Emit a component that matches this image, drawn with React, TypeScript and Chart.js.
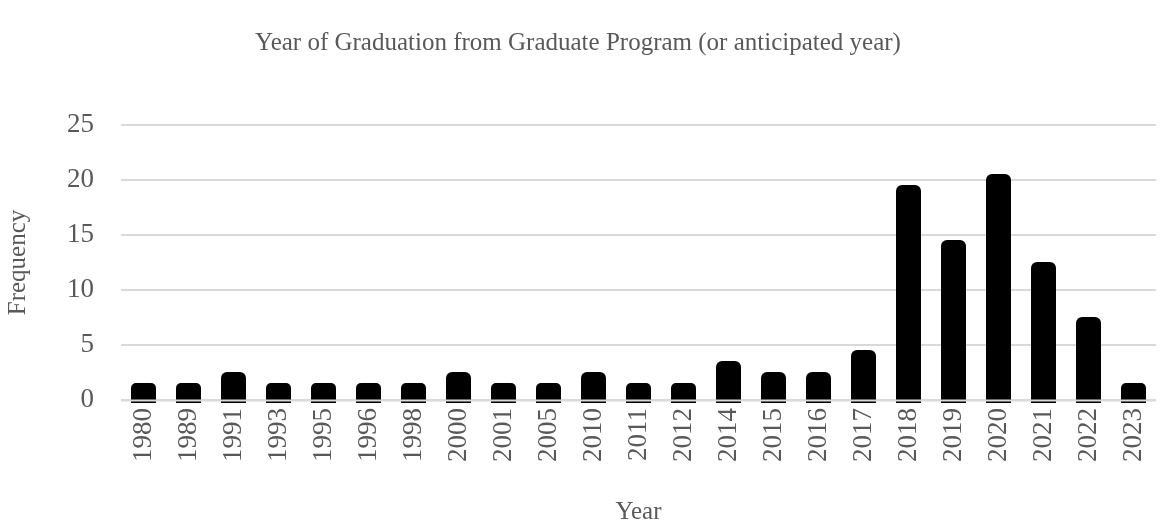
import React, { useEffect, useRef } from "react";
import { Chart, registerables } from "chart.js";

Chart.register(...registerables);

const categories = ["1980", "1989", "1991", "1993", "1995", "1996", "1998", "2000", "2001", "2005", "2010", "2011", "2012", "2014", "2015", "2016", "2017", "2018", "2019", "2020", "2021", "2022", "2023"];
const frequency = [1, 1, 2, 1, 1, 1, 1, 2, 1, 1, 2, 1, 1, 3, 2, 2, 4, 19, 14, 20, 12, 7, 1];
const yTicks = [0, 5, 10, 15, 20, 25];

const FONT = "'Liberation Serif', 'Times New Roman', serif";
const GRAY = "#595959";
const SIZE = 25;
const TICK_SIZE = 27;

const baselinePlugin = {
  id: "baselineOver",
  afterDatasetsDraw(chart: any) {
    const { ctx, chartArea, scales } = chart;
    const y = Math.round(scales.y.getPixelForValue(0)) + 0.5;
    ctx.save();
    ctx.strokeStyle = "#d9d9d9";
    ctx.lineWidth = 2;
    ctx.beginPath();
    ctx.moveTo(chartArea.left, y);
    ctx.lineTo(chartArea.right, y);
    ctx.stroke();
    ctx.restore();
  },
};

export default function App() {
  const ref = useRef<HTMLCanvasElement>(null);
  useEffect(() => {
    if (!ref.current) return;
    const chart = new Chart(ref.current, {
      type: "bar",
      data: {
        labels: categories,
        datasets: [
          {
            data: frequency,
            backgroundColor: "#000000",
            borderWidth: 0,
            borderRadius: 6,
            inflateAmount: 6,
            barThickness: 13,
            clip: { left: false, top: false, right: false, bottom: 3 } as any,
          } as any,
        ],
      },
      options: {
        responsive: false,
        animation: false,
        layout: { padding: { left: 0, right: 20, top: 0, bottom: 2 } },
        plugins: {
          legend: { display: false },
          tooltip: { enabled: false },
          title: {
            display: true,
            text: "Year of Graduation from Graduate Program (or anticipated year)",
            color: GRAY,
            font: { family: FONT, size: SIZE, weight: "normal" },
            padding: { top: 28, bottom: 67 },
          },
        },
        scales: {
          x: {
            grid: { display: false, drawTicks: false },
            border: { display: false },
            ticks: {
              color: GRAY,
              font: { family: FONT, size: TICK_SIZE },
              minRotation: 90,
              maxRotation: 90,
              autoSkip: false,
              padding: 8,
            },
            title: {
              display: true,
              text: "Year",
              color: GRAY,
              font: { family: FONT, size: SIZE },
              padding: { top: 27, bottom: 0 },
            },
          },
          y: {
            min: 0,
            max: 25,
            afterBuildTicks: (axis: any) => {
              axis.ticks = yTicks.map((v) => ({ value: v }));
            },
            grid: { color: "#d9d9d9", lineWidth: 2, drawTicks: false },
            border: { display: false },
            ticks: {
              color: GRAY,
              font: { family: FONT, size: TICK_SIZE },
              padding: 27,
            },
            title: {
              display: true,
              text: "Frequency",
              color: GRAY,
              font: { family: FONT, size: SIZE },
              padding: { top: 3, bottom: 7 },
            },
          },
        },
      },
      plugins: [baselinePlugin],
    });
    return () => chart.destroy();
  }, []);
  return (
    <div style={{ position: "absolute", left: 0, top: 0, width: 1176, height: 529, background: "#fff" }}>
      <canvas ref={ref} width={1176} height={529} />
    </div>
  );
}
